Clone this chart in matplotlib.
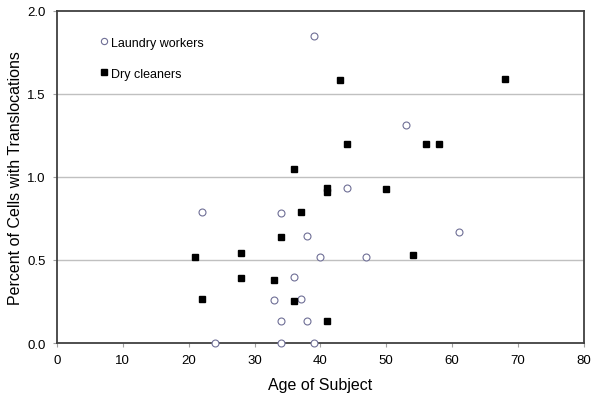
import matplotlib.pyplot as plt

plt.rcParams["font.family"] = ["Liberation Sans", "DejaVu Sans"]

# Laundry workers (open circles)
laundry_age = [39, 53, 44, 22, 34, 38, 61, 40, 47, 36, 33, 37, 34, 38, 24, 34, 39]
laundry_pct = [1.85, 1.31, 0.93, 0.79, 0.78, 0.645, 0.665, 0.52, 0.52, 0.395,
               0.26, 0.265, 0.13, 0.13, 0.0, 0.0, 0.0]

# Dry cleaners (filled squares)
dry_age = [43, 68, 44, 56, 58, 36, 41, 41, 50, 37, 34, 21, 28, 54, 28, 33, 22, 36, 41]
dry_pct = [1.58, 1.59, 1.2, 1.2, 1.2, 1.05, 0.93, 0.91, 0.925, 0.79, 0.64, 0.52,
           0.54, 0.53, 0.39, 0.38, 0.265, 0.25, 0.13]

x_ticks = [0, 10, 20, 30, 40, 50, 60, 70, 80]
y_ticks = [0.0, 0.5, 1.0, 1.5, 2.0]

fig = plt.figure(figsize=(6, 4.14), dpi=100)
ax = fig.add_axes([0.095, 0.169, 0.878, 0.803])

for y in [0.5, 1.0, 1.5]:
    ax.axhline(y, color="#c0c0c0", lw=1.0, zorder=0)

ax.plot(laundry_age, laundry_pct, "o", ms=5, mfc="white", mec="#6f6f96",
        mew=0.8, ls="none", label="Laundry workers", clip_on=False, zorder=5)
ax.plot(dry_age, dry_pct, "s", ms=5, mfc="black", mec="black", ls="none",
        label="Dry cleaners", clip_on=False, zorder=5)

ax.set_xlim(0, 80)
ax.set_ylim(0, 2.0)
ax.set_xticks(x_ticks)
ax.set_yticks(y_ticks)
ax.set_yticklabels([f"{v:.1f}" for v in y_ticks])
ax.tick_params(axis="both", labelsize=9.5, length=3, color="#a0a0a0", pad=5)

for s in ax.spines.values():
    s.set_color("#404040")
    s.set_linewidth(1.3)

ax.set_xlabel("Age of Subject", fontsize=11.5, labelpad=8)
ax.set_ylabel("Percent of Cells with Translocations", fontsize=11.5, labelpad=3.5)

ax.legend(loc="upper left", bbox_to_anchor=(0.06, 0.955), frameon=False,
          fontsize=9, handlelength=0.6, handletextpad=0.3, labelspacing=1.5,
          markerscale=0.9)

fig.savefig("out.png", dpi=100)
